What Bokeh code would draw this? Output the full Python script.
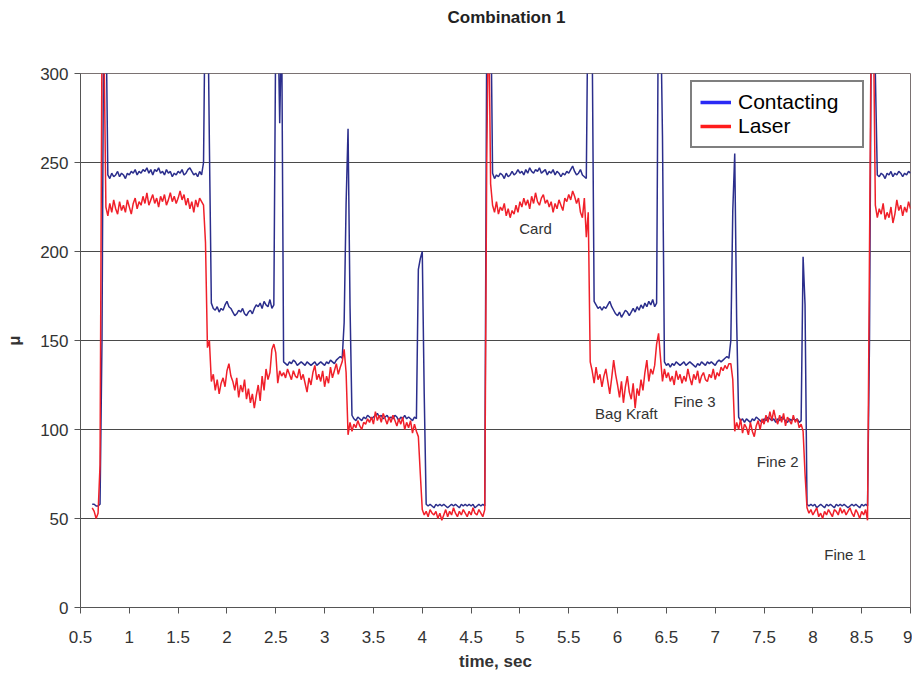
import numpy as np
from bokeh.plotting import figure
from bokeh.models import Range1d, FixedTicker, Legend, LegendItem, ColumnDataSource, Title
from bokeh.core.properties import value
from bokeh.embed import file_html
from bokeh.resources import INLINE

# ---------------- data ----------------
T0 = 0.62      # first sample time, s
DT = 0.02      # sample spacing, s

# Contacting gauge, segment by segment (plateau followed by its transition spike)
contact_lead = [58, 58, 57, 57, 58, 150, 360, 340]
contact_card1 = [243, 241, 244, 242, 243, 245, 242, 244, 243, 241,
                 244, 243, 245, 244, 246, 243, 245, 244, 246, 245,
                 247, 244, 246, 243, 246, 245, 247, 244, 245, 243,
                 246, 244, 245, 242, 244, 243, 245, 244, 246, 243,
                 244, 246, 247, 245, 243, 244, 242, 245, 243,
                 250, 360, 360, 260]
contact_kraft1 = [171, 168, 167, 169, 166, 168, 167, 170, 172, 169,
                  168, 166, 164, 165, 167, 166, 168, 165, 164, 166,
                  167, 165, 168, 170, 169, 171, 168, 172, 170, 169,
                  173, 168, 170,
                  330, 340, 272, 330]
contact_fine3_1 = [138, 137, 136, 138, 137, 139, 138, 136, 137, 138,
                   137, 136, 138, 137, 136, 137, 138, 136, 137, 138,
                   137, 136, 138, 137, 139, 138, 137, 139, 140, 141,
                   140,
                   160, 227, 269, 170]
contact_fine2_1 = [108, 106, 105, 107, 106, 105, 107, 106, 108, 107,
                   106, 107, 108, 109, 107, 108, 106, 107, 108, 106,
                   107, 106, 108, 107, 105, 107, 106, 108, 106, 107,
                   106, 105, 107, 106,
                   190, 196, 200, 120]
contact_fine1_1 = [58, 57, 58, 57, 56, 58, 57, 58, 57, 58,
                   57, 56, 57, 58, 57, 58, 57, 56, 58, 57,
                   58, 57, 58, 57, 58, 56, 57, 58, 57, 58,
                   57,
                   320, 360, 350]
contact_card2 = [244, 241, 243, 242, 244, 243, 241, 244, 242, 243,
                 245, 243, 244, 246, 244, 245, 243, 246, 244, 247,
                 245, 244, 246, 245, 247, 244, 245, 246, 243, 245,
                 244, 246, 243, 245, 244, 242, 244, 243, 245, 244,
                 246, 248, 245, 243, 244, 246, 243, 242, 241,
                 360, 360, 320]
contact_kraft2 = [172, 170, 168, 169, 167, 169, 168, 170, 172, 169,
                  167, 165, 164, 166, 163, 165, 167, 166, 164, 166,
                  168, 166, 169, 167, 170, 168, 171, 169, 172, 170,
                  173, 169, 171,
                  360, 340, 265]
contact_fine3_2 = [138, 136, 137, 135, 137, 136, 138, 137, 136, 137,
                   138, 136, 137, 138, 137, 136, 135, 137, 136, 138,
                   137, 136, 138, 137, 138, 137, 136, 138, 139, 138,
                   139, 140, 141, 140,
                   150, 223, 255, 160]
contact_fine2_2 = [107, 105, 106, 104, 106, 105, 104, 106, 105, 107,
                   106, 105, 104, 106, 105, 107, 106, 105, 106, 104,
                   106, 105, 107, 106, 105, 104, 106, 105, 106, 105,
                   106, 104, 105,
                   197, 170]
contact_fine1_2 = [58, 57, 58, 57, 58, 56, 57, 58, 57, 56,
                   58, 57, 58, 57, 56, 58, 57, 58, 57, 58,
                   57, 56, 57, 58, 57, 58, 57, 56, 58, 57,
                   58, 57,
                   150, 340, 360, 300]
contact_card3 = [243, 242, 244, 243, 241, 244, 243, 245, 242, 244,
                 243, 245, 244, 242, 244, 243, 245, 244]

# Laser gauge
laser_lead = [56, 54, 50, 53, 80, 320, 320]
laser_card1 = [225, 220, 227, 222, 229, 224, 221, 228, 223, 226,
               222, 229, 225, 221, 227, 230, 224, 228, 226, 231,
               227, 233, 226, 229, 232, 227, 230, 225, 231, 228,
               232, 226, 229, 233, 228, 231, 227, 230, 234, 229,
               232, 226, 230, 224, 228, 222, 229, 225, 230, 228,
               226, 205, 146, 150]
laser_kraft1 = [127, 131, 122, 128, 120, 126, 129, 124, 133, 137,
                130, 127, 122, 129, 118, 125, 121, 128, 117, 123,
                115, 120, 112, 119, 125, 116, 130, 122, 134, 128,
                132,
                145, 148, 143, 126]
laser_fine3_1 = [133, 130, 132, 129, 134, 131, 128, 133, 130, 129,
                 134, 128, 131, 126, 121, 129, 125, 132, 136, 128,
                 131, 127, 133, 124, 130, 126, 135, 129, 133, 137,
                 131, 135, 138,
                 145, 132, 97]
laser_fine2_1 = [104, 99, 103, 101, 105, 102, 100, 104, 103, 106,
                 104, 107, 103, 110, 105, 108, 104, 109, 106, 103,
                 107, 104, 108, 105, 102, 106, 103, 107, 100, 104,
                 101, 105, 98, 103, 99,
                 96, 75]
laser_fine1_1 = [55, 52, 54, 51, 55, 53, 52, 54, 50, 53,
                 49, 52, 55, 51, 54, 52, 56, 53, 51, 54,
                 52, 55, 53, 51, 54, 52, 56, 53, 52, 55,
                 53, 51, 55,
                 250, 340, 238]
laser_card2 = [226, 222, 228, 221, 225, 223, 227, 220, 224, 219,
               223, 221, 226, 222, 228, 225, 230, 226, 229, 224,
               231, 227, 233, 228, 226, 230, 232, 227, 229, 225,
               228, 222, 227, 224, 229, 226, 223, 230, 228, 232,
               229, 234, 231, 227, 230, 222, 219, 230, 208, 222]
laser_kraft2 = [138, 133, 126, 135, 128, 131, 124, 130, 134, 127,
                120, 129, 139, 131, 125, 118, 127, 115, 124, 130,
                121, 117, 126, 112, 123, 119, 128, 122, 132, 139,
                127, 134, 131, 136, 148,
                154, 140, 127]
laser_fine3_2 = [134, 129, 132, 127, 130, 125, 133, 128, 131, 126,
                 130, 127, 134, 129, 125, 131, 128, 133, 126, 130,
                 132, 128, 127, 131, 129, 134, 128, 132, 130, 135,
                 133, 136, 134, 137, 137,
                 128, 99]
laser_fine2_2 = [104, 100, 106, 98, 103, 101, 97, 104, 99, 96,
                 102, 105, 100, 106, 103, 108, 104, 110, 105, 111,
                 106, 103, 108, 104, 109, 102, 107, 105, 103, 108,
                 104, 106, 101, 103, 99,
                 75]
laser_fine1_2 = [56, 53, 55, 52, 54, 56, 51, 53, 50, 54,
                 52, 55, 53, 51, 55, 54, 52, 56, 53, 55,
                 52, 54, 56, 53, 51, 55, 53, 50, 54, 52,
                 55, 49,
                 200, 350, 330]
laser_card3 = [226, 219, 224, 221, 227, 218, 222, 219, 225, 216,
               221, 229, 223, 226, 220, 225, 222, 228, 224]

# material annotations
label_text = ["Card", "Bag Kraft", "Fine 3", "Fine 2", "Fine 1"]
label_x = [5.16, 6.09, 6.79, 7.64, 8.33]
label_y = [213, 109, 116, 82, 30]

x_ticks = [0.5, 1.0, 1.5, 2.0, 2.5, 3.0, 3.5, 4.0, 4.5, 5.0, 5.5, 6.0, 6.5, 7.0, 7.5, 8.0, 8.5, 9.0]
x_tick_labels = ["0.5", "1", "1.5", "2", "2.5", "3", "3.5", "4", "4.5", "5", "5.5", "6", "6.5", "7", "7.5", "8", "8.5", "9"]
y_ticks = [0, 50, 100, 150, 200, 250, 300]

# ---------------- assemble ----------------
contacting = (contact_lead + contact_card1 + contact_kraft1 + contact_fine3_1 + contact_fine2_1 +
              contact_fine1_1 + contact_card2 + contact_kraft2 + contact_fine3_2 + contact_fine2_2 +
              contact_fine1_2 + contact_card3)
laser = (laser_lead + laser_card1 + laser_kraft1 + laser_fine3_1 + laser_fine2_1 + laser_fine1_1 +
         laser_card2 + laser_kraft2 + laser_fine3_2 + laser_fine2_2 + laser_fine1_2 + laser_card3)

t_c = np.round(T0 + DT * np.arange(len(contacting)), 4)
t_l = np.round(T0 + DT * np.arange(len(laser)), 4)

FONT = "Liberation Sans"
BLUE = "#2B2E8C"
RED = "#F0202A"

p = figure(width=912, height=674, output_backend="svg", toolbar_location=None,
           x_range=Range1d(0.5, 9.0), y_range=Range1d(0, 300),
           min_border_left=80, min_border_right=2, min_border_top=73, min_border_bottom=67,
           title="Combination 1")

p.background_fill_color = "white"
p.border_fill_color = "white"
p.outline_line_color = "#7a7272"
p.outline_line_width = 1

p.title.text_font = FONT
p.title.text_font_size = "17px"
p.title.text_font_style = "bold"
p.title.text_color = "#222222"
p.title.align = "left"
p.title.offset = 367
p.title.vertical_align = "top"
p.title.standoff = 0

# empty spacer between the title and the plot frame, so the title sits near the top edge
p.add_layout(Title(text=" ", text_font_size="10px", standoff=32), "above")

r_blue = p.line(t_c, contacting, line_color=BLUE, line_width=1.5)
r_red = p.line(t_l, laser, line_color=RED, line_width=1.5)

# legend swatches (brighter, thicker, as in the reference legend); they draw nothing in the plot
leg_blue = p.line([np.nan], [np.nan], line_color="#2A2AF5", line_width=3.5)
leg_red = p.line([np.nan], [np.nan], line_color="#FF1C1C", line_width=3.5)

src = ColumnDataSource(dict(x=label_x, y=label_y, text=label_text))
p.text(x="x", y="y", text="text", source=src, text_font=value(FONT), text_font_size="15px",
       text_color="#333333", text_align="center", text_baseline="middle")

# axes
p.xaxis.ticker = FixedTicker(ticks=x_ticks)
p.xaxis.major_label_overrides = dict(zip(x_ticks, x_tick_labels))
p.yaxis.ticker = FixedTicker(ticks=y_ticks)
for ax in (p.xaxis, p.yaxis):
    ax.axis_line_color = "#555555"
    ax.axis_line_width = 1
    ax.major_tick_line_color = "#555555"
    ax.major_tick_in = 0
    ax.major_tick_out = 6
    ax.minor_tick_line_color = None
    ax.major_label_text_font = FONT
    ax.major_label_text_font_size = "17px"
    ax.major_label_text_color = "#333333"
    ax.axis_label_text_font = FONT
    ax.axis_label_text_font_style = "bold"
    ax.axis_label_text_color = "#333333"

p.xaxis.axis_label = "time, sec"
p.xaxis.axis_label_text_font_size = "17px"
p.xaxis.major_label_standoff = 17
p.xaxis.axis_label_standoff = 6
p.yaxis.axis_label = "μ"
p.yaxis.axis_label_text_font_size = "16px"
p.yaxis.major_label_standoff = 6
p.yaxis.axis_label_standoff = 14

p.xgrid.grid_line_color = None
p.ygrid.grid_line_color = "#4a4a4a"
p.ygrid.grid_line_width = 1

legend = Legend(items=[LegendItem(label="Contacting", renderers=[leg_blue]),
                       LegendItem(label="Laser", renderers=[leg_red])],
                location=(610, 459), orientation="vertical")
legend.label_text_font = FONT
legend.label_text_font_size = "21px"
legend.label_text_color = "black"
legend.border_line_color = "black"
legend.border_line_width = 2
legend.background_fill_color = "white"
legend.background_fill_alpha = 1
legend.padding = 8
legend.spacing = 0
legend.margin = 0
legend.glyph_width = 31
legend.glyph_height = 24
legend.label_height = 24
legend.label_standoff = 7
legend.label_width = 116
p.add_layout(legend)

open("out.html", "w").write(file_html(p, INLINE))
